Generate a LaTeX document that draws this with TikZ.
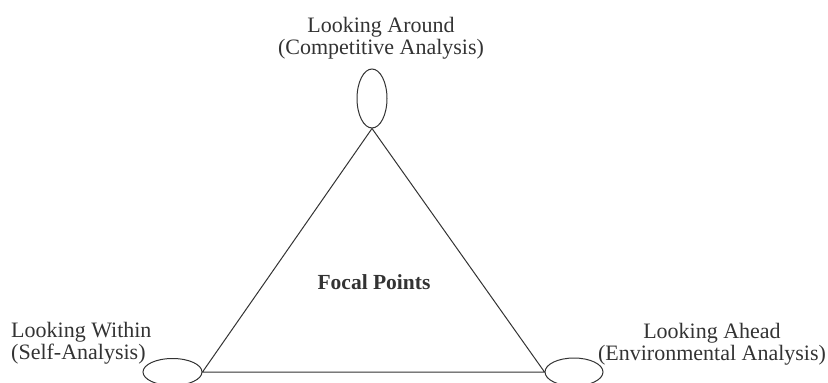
\documentclass[tikz,border=0pt]{standalone}
\usepackage{fontspec}
\setmainfont{Liberation Serif}
\usetikzlibrary{shapes.geometric}
\definecolor{ink}{HTML}{333333}
\begin{document}
\begin{tikzpicture}[x=1pt,y=-1pt,
  oval/.style={draw=ink,line width=1pt,ellipse,inner sep=0pt},
  lbl/.style={text=ink,font=\fontsize{22}{22.5}\selectfont,inner sep=0pt},
  edge/.style={draw=ink,line width=1pt}]
\useasboundingbox (0,0) rectangle (828,383);
\node[oval,minimum width=30pt,minimum height=59pt] (top) at (372,98.5) {};
\node[oval,minimum width=59pt,minimum height=27pt] (left) at (172.5,372) {};
\node[oval,minimum width=58pt,minimum height=28pt] (right) at (574,372) {};
\draw[edge] (top.south) -- (left.east) -- (right.west) -- cycle;
\node[lbl,align=center] (tl) at (381,38) {Looking Around\\(Competitive Analysis)};
\node[lbl,align=left,anchor=west] (ll) at (11,343) {Looking Within\\(Self-Analysis)};
\node[lbl,align=center] (rl) at (712,344) {Looking Ahead\\(Environmental Analysis)};
\node[lbl,font=\fontsize{21.5}{22}\selectfont\bfseries] (fp) at (374,282) {Focal Points};
\end{tikzpicture}
\end{document}
